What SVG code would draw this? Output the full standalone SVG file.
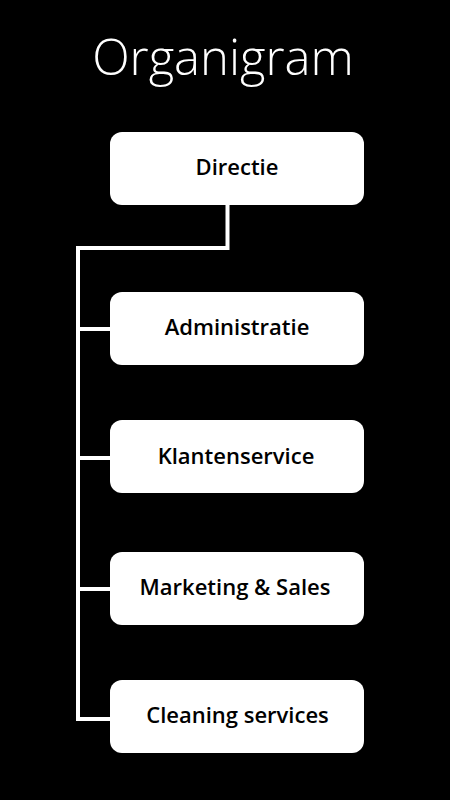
<svg xmlns="http://www.w3.org/2000/svg" width="450" height="800" viewBox="0 0 450 800">
<style>
.box{fill:#ffffff;}
.lbl{font-family:"Open Sans","Liberation Sans",sans-serif;font-weight:600;font-size:22px;fill:#000000;text-anchor:middle;}
.title{font-family:"Open Sans","Liberation Sans",sans-serif;font-weight:300;font-size:49px;fill:#ffffff;text-anchor:middle;}
.conn{fill:none;stroke:#ffffff;stroke-width:4;}
</style>
<rect x="0" y="0" width="450" height="800" fill="#000000"/>
<text class="title" x="223" y="75">Organigram</text>
<g id="connectors">
<polyline class="conn" points="227.5,205 227.5,248 78,248 78,719 110,719"/>
<line class="conn" x1="78" y1="329" x2="110" y2="329"/>
<line class="conn" x1="78" y1="458" x2="110" y2="458"/>
<line class="conn" x1="78" y1="589" x2="110" y2="589"/>
</g>
<g id="directie">
<rect class="box" x="110" y="132" width="254" height="73" rx="12"/>
<text class="lbl" x="237" y="175">Directie</text>
</g>
<g id="administratie">
<rect class="box" x="110" y="292" width="254" height="73" rx="12"/>
<text class="lbl" x="237" y="335">Administratie</text>
</g>
<g id="klantenservice">
<rect class="box" x="110" y="420" width="254" height="73" rx="12"/>
<text class="lbl" x="236" y="464">Klantenservice</text>
</g>
<g id="marketing">
<rect class="box" x="110" y="552" width="254" height="73" rx="12"/>
<text class="lbl" x="235" y="595">Marketing &amp; Sales</text>
</g>
<g id="cleaning">
<rect class="box" x="110" y="680" width="254" height="73" rx="12"/>
<text class="lbl" x="237.5" y="723">Cleaning services</text>
</g>
</svg>
